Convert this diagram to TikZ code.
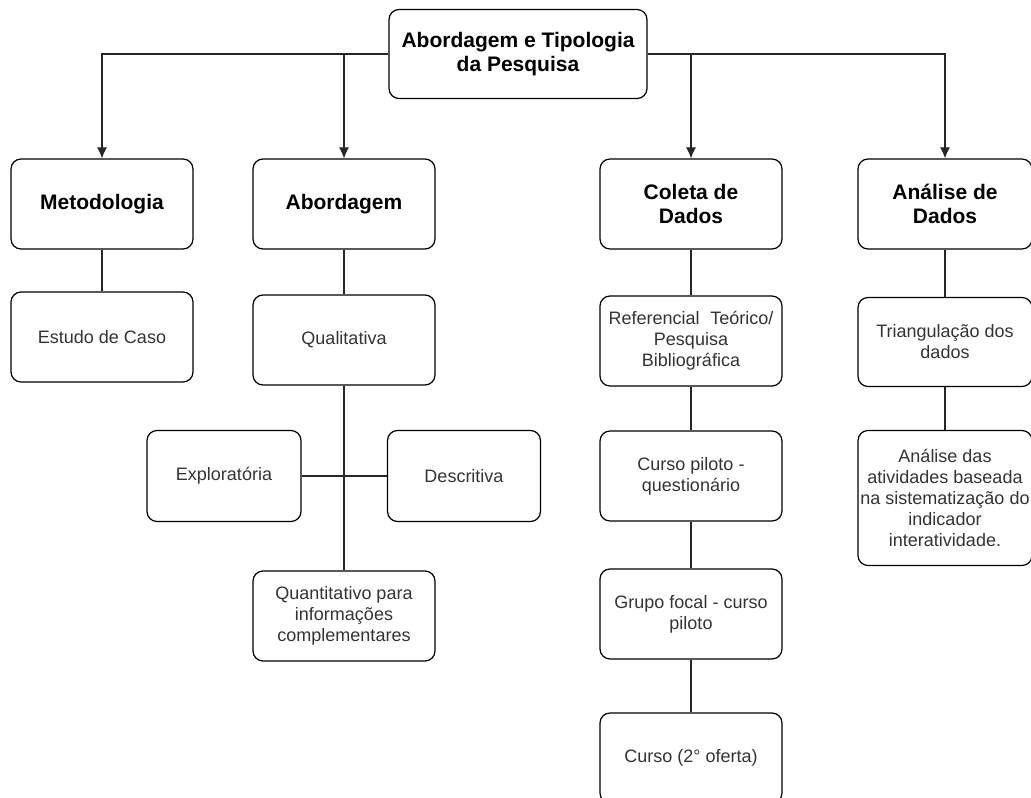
\documentclass[tikz,border=0pt]{standalone}
\usepackage{fontspec}
\setmainfont{Liberation Sans}
\usepackage{tikz}
\usetikzlibrary{arrows.meta}

\tikzset{
    box/.style={draw, rounded corners=10pt, line width=1.2pt, align=center,
        minimum width=182pt, minimum height=90pt, inner sep=2pt,
        text=black!80, font=\fontsize{18}{21}\selectfont},
    head/.style={box, text=black, font=\bfseries\fontsize{21}{23.5}\selectfont},
    link/.style={line width=1.1pt, draw=black!85},
    arrow/.style={link, -{Latex[length=11pt,width=10pt]}}
}

\begin{document}
\begin{tikzpicture}[x=1pt, y=-1pt]
    \useasboundingbox (0,0) rectangle (1031,798);
    \clip (0,0) rectangle (1031,798);

    \node[head, minimum width=258pt, minimum height=89pt] at (518,54) (Top) {Abordagem e Tipologia\\da Pesquisa};

    \node[head] at (102,204) (Met)  {Metodologia};
    \node[head] at (344,204) (Abo)  {Abordagem};
    \node[head] at (691,204) (Col)  {Coleta de\\Dados};
    \node[head, minimum width=174pt] at (945,204) (Ana) {Análise de\\Dados};

    \node[box] at (102,337) (Est)  {Estudo de Caso};
    \node[box] at (344,340) (Qual) {Qualitativa};
    \node[box, minimum width=154pt, minimum height=91pt] at (224,476) (Exp) {Exploratória};
    \node[box, minimum width=153pt, minimum height=91pt] at (464,476) (Des) {Descritiva};
    \node[box] at (344,616) (Quan) {Quantitativo para\\informações\\complementares};

    \node[box] at (691,341) (Ref)  {Referencial\hspace{0.6em}Teórico/\\Pesquisa\\Bibliográfica};
    \node[box] at (691,476) (Pil)  {Curso piloto -\\questionário};
    \node[box] at (691,614) (Gru)  {Grupo focal - curso\\piloto};
    \node[box] at (691,758) (Cur)  {Curso (2° oferta)};

    \node[box, minimum width=174pt, minimum height=89pt] at (945,342) (Tri) {Triangulação dos\\dados};
    \node[box, minimum width=174pt, minimum height=135pt] at (945,498) (Atv)
        {Análise das\\atividades baseada\\\makebox[0pt]{na sistematização do}\\indicador\\interatividade.};

    % setas a partir do titulo
    \draw[arrow] (Top.west) -| (Met.north);
    \draw[arrow] (Top.west) -| (Abo.north);
    \draw[arrow] (Top.east) -| (Col.north);
    \draw[arrow] (Top.east) -| (Ana.north);

    \draw[link]
        (Met)  edge (Est)
        (Abo)  edge (Qual)
        (Qual) edge (Quan)
        (Exp)  edge (Des)
        (Col)  edge (Ref)
        (Ref)  edge (Pil)
        (Pil)  edge (Gru)
        (Gru)  edge (Cur)
        (Ana)  edge (Tri)
        (Tri)  edge (Atv);
\end{tikzpicture}
\end{document}
